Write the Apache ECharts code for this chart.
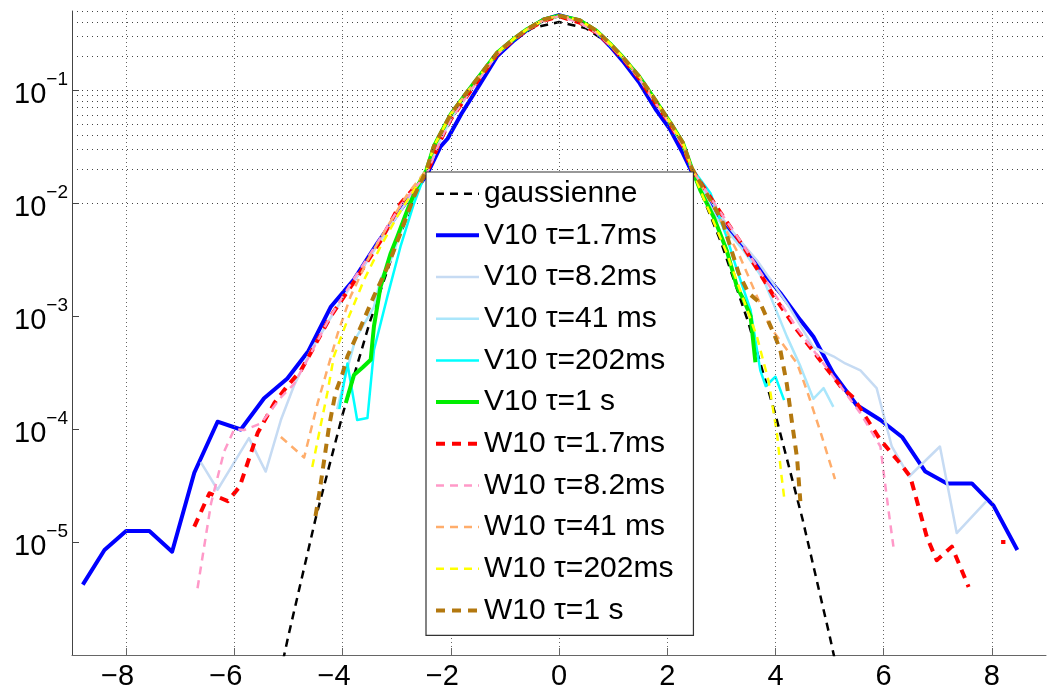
<!DOCTYPE html>
<html><head><meta charset="utf-8">
<script src="https://cdn.jsdelivr.net/npm/echarts@6/dist/echarts.min.js"></script>
<style>html,body{margin:0;padding:0;background:#fff}#c{width:1047px;height:693px}</style>
</head><body><div id="c"></div>
<script>
// ---------- data ----------
const seriesNames = ['gaussienne','V10 τ=1.7ms','V10 τ=8.2ms','V10 τ=41 ms','V10 τ=202ms','V10 τ=1 s',
  'W10 τ=1.7ms','W10 τ=8.2ms','W10 τ=41 ms','W10 τ=202ms','W10 τ=1 s'];
const xTickValues = [-8,-6,-4,-2,0,2,4,6,8];
const yLabelValues = [1e-5,1e-4,1e-3,1e-2,1e-1];

const gaussienne = [[-5.1,8.97e-7],[-5.0,1.487e-6],[-4.5,1.598e-5],[-4.0,1.338e-4],[-3.5,8.727e-4],[-3.0,4.432e-3],
  [-2.5,1.753e-2],[-2.0,5.399e-2],[-1.5,0.1295],[-1.0,0.2420],[-0.5,0.3521],[0,0.3989],[0.5,0.3521],[1.0,0.2420],
  [1.5,0.1295],[2.0,5.399e-2],[2.5,1.753e-2],[3.0,4.432e-3],[3.5,8.727e-4],[4.0,1.338e-4],[4.5,1.598e-5],[5.0,1.487e-6],[5.1,8.97e-7]];

// central part shared by most measured curves (upper edge of the bundle)
const coreA = [[-2.45,0.0195],[-2.31,0.032],[-2.00,0.061],[-1.69,0.097],[-1.45,0.137],[-1.14,0.215],[-0.83,0.285],
  [-0.59,0.345],[-0.28,0.42],[0.0,0.455],[0.38,0.415],[0.69,0.335],[0.94,0.258],[1.18,0.195],[1.49,0.13],[1.74,0.087],
  [2.05,0.052],[2.29,0.034],[2.45,0.0205]];
// narrower centre of the V10 τ=1.7ms curve (lower edge of the bundle)
const coreB = [[-2.45,0.0175],[-2.19,0.0315],[-2.06,0.037],[-1.80,0.062],[-1.51,0.103],[-1.14,0.2],[-0.83,0.275],
  [-0.59,0.34],[-0.28,0.42],[0.0,0.46],[0.38,0.41],[0.69,0.325],[0.94,0.245],[1.18,0.18],[1.49,0.115],[1.80,0.066],
  [2.05,0.045],[2.29,0.0275],[2.45,0.019]];
// middle of the bundle (τ=1.7ms and 8.2ms curves)
const coreC = [[-2.45,0.018],[-2.19,0.036],[-2.00,0.055],[-1.69,0.09],[-1.45,0.13],[-1.14,0.208],[-0.83,0.28],
  [-0.59,0.34],[-0.28,0.41],[0.0,0.45],[0.38,0.395],[0.69,0.322],[0.94,0.25],[1.18,0.19],[1.49,0.125],[1.74,0.082],
  [2.05,0.05],[2.29,0.032],[2.45,0.02]];

const v17Left = [[-8.80,4.2e-6],[-8.40,8.5e-6],[-8.00,1.25e-5],[-7.57,1.25e-5],[-7.15,8.2e-6],[-6.74,4.1e-5],[-6.31,1.16e-4],
  [-5.88,9.9e-5],[-5.45,1.87e-4],[-5.02,2.8e-4],[-4.63,4.9e-4],[-4.22,1.2e-3],[-3.79,2.1e-3],[-3.36,4.4e-3],[-2.93,8.7e-3]];
const v17Right = [[3.05,6.5e-3],[3.47,3.8e-3],[3.78,2.4e-3],[4.09,1.6e-3],[4.46,9.2e-4],[4.70,6.6e-4],[5.07,3.1e-4],[5.50,1.63e-4],
  [5.94,1.2e-4],[6.34,8.5e-5],[6.77,4.2e-5],[7.17,3.3e-5],[7.63,3.3e-5],[8.03,2.1e-5],[8.47,8.5e-6]];

const v82Left = [[-6.62,5.1e-5],[-6.31,2.9e-5],[-5.73,8.3e-5],[-5.42,4.2e-5],[-5.14,1.2e-4],[-4.90,2.4e-4],[-4.60,4.8e-4],
  [-4.20,1.0e-3],[-3.80,2.0e-3],[-3.36,4.2e-3],[-2.93,8.5e-3]];
const v82Right = [[3.0,7.5e-3],[3.29,5.0e-3],[3.66,3.1e-3],[4.21,1.3e-3],[4.70,5.3e-4],[5.07,4.4e-4],[5.29,3.8e-4],[5.57,3.3e-4],
  [5.87,2.3e-4],[6.15,7.0e-5],[6.47,3.8e-5],[7.04,7.0e-5],[7.35,1.2e-5],[7.90,2.3e-5]];

const v41Left = [[-4.10,1.5e-4],[-3.90,3.6e-4],[-3.76,6.3e-4],[-3.42,1.2e-3],[-3.30,2.1e-3],[-3.11,3.1e-3],[-2.85,7.0e-3]];
const v41Right = [[2.90,7.5e-3],[3.41,3.8e-3],[3.78,2.1e-3],[4.21,6.6e-4],[4.46,3.6e-4],[4.70,1.85e-4],[4.89,2.3e-4],[5.07,1.57e-4]];

const v202Left = [[-4.06,1.5e-4],[-3.91,3.8e-4],[-3.73,1.2e-4],[-3.54,1.25e-4],[-3.42,5.0e-4],[-3.17,1.5e-3],[-2.93,4.1e-3],[-2.68,9.9e-3]];
const v202Right = [[2.80,0.0122],[3.10,5.0e-3],[3.29,2.55e-3],[3.54,1.13e-3],[3.72,3.3e-4],[3.82,2.4e-4],[4.00,2.9e-4],[4.16,1.8e-4]];

const v1sLeft = [[-3.94,1.7e-4],[-3.79,3.0e-4],[-3.63,3.5e-4],[-3.48,4.1e-4],[-3.42,8.1e-4],[-3.30,1.8e-3],[-3.11,3.6e-3],
  [-2.99,5.0e-3],[-2.80,8.7e-3],[-2.62,0.014]];
const v1sRight = [[2.61,0.013],[2.86,7.5e-3],[3.10,3.8e-3],[3.29,1.8e-3],[3.41,1.4e-3],[3.54,1.0e-3],[3.63,3.9e-4]];

const w17Left = [[-6.74,1.37e-5],[-6.46,2.7e-5],[-6.12,2.3e-5],[-5.90,3.1e-5],[-5.57,9.2e-5],[-5.26,1.7e-4],[-5.02,2.4e-4],
  [-4.77,3.3e-4],[-4.53,5.3e-4],[-4.22,9.9e-4],[-3.73,2.2e-3],[-3.30,4.6e-3],[-2.93,9.9e-3]];
const w17Right = [[2.93,9.0e-3],[3.41,4.1e-3],[3.97,1.5e-3],[4.40,7.5e-4],[4.77,4.4e-4],[5.20,2.4e-4],[5.44,1.9e-4],[5.57,1.5e-4],
  [5.94,8.0e-5],[6.30,5.0e-5],[6.49,3.8e-5],[6.80,1.1e-5],[6.98,6.9e-6],[7.26,9.1e-6],[7.57,4.0e-6],[7.9,'-'],[8.17,1.0e-5],[8.25,1.0e-5]];

const w82Left = [[-6.68,3.9e-6],[-6.43,2.2e-5],[-6.19,6.3e-5],[-6.0,1.0e-4],[-5.82,9.8e-5],[-5.51,1.12e-4],[-5.14,1.9e-4],
  [-4.90,2.5e-4],[-4.65,4.1e-4],[-4.22,1.0e-3],[-3.80,2.1e-3],[-3.36,4.4e-3],[-2.93,9.5e-3]];
const w82Right = [[2.93,9.0e-3],[3.41,4.2e-3],[3.97,1.6e-3],[4.40,7.8e-4],[4.77,4.5e-4],[5.20,2.4e-4],[5.57,1.38e-4],
  [5.94,7.0e-5],[6.00,4.1e-5],[6.09,1.9e-5],[6.18,9.1e-6]];

const w41Left = [[-5.14,8.5e-5],[-4.71,5.6e-5],[-4.46,1.7e-4],[-4.09,7.0e-4],[-3.85,1.5e-3],[-3.54,3.1e-3],[-3.17,6.2e-3],[-2.80,0.012]];
const w41Right = [[2.90,8.5e-3],[3.35,3.3e-3],[3.90,8.0e-4],[4.40,3.8e-4],[4.58,2.2e-4],[4.83,9.5e-5],[5.10,3.6e-5]];

const w202Left = [[-4.56,4.6e-5],[-4.40,1.1e-4],[-4.28,2.1e-4],[-4.16,4.4e-4],[-3.91,9.2e-4],[-3.60,2.1e-3],[-3.30,4.1e-3],[-2.99,7.6e-3]];
const w202Right = [[2.61,0.013],[3.10,3.6e-3],[3.66,6.5e-4],[3.87,2.7e-4],[4.03,9.0e-5],[4.10,4.3e-5],[4.16,2.5e-5]];

const w1sLeft = [[-4.50,1.7e-5],[-4.43,2.7e-5],[-4.34,5.3e-5],[-4.25,1.05e-4],[-4.13,2.1e-4],[-4.00,3.1e-4],[-3.91,4.4e-4],
  [-3.66,8.1e-4],[-3.42,1.5e-3],[-3.17,2.7e-3],[-2.93,5.4e-3],[-2.68,0.0114]];
const w1sRight = [[3.01,7.1e-3],[3.32,2.4e-3],[3.50,1.6e-3],[3.72,1.3e-3],[3.97,7.0e-4],[4.09,5.0e-4],[4.21,2.5e-4],
  [4.30,1.2e-4],[4.40,5.5e-5],[4.46,2.3e-5]];

// ---------- chart ----------
const full = (l, c, r) => l.concat(c, r);
const seriesData = [gaussienne, full(v17Left,coreB,v17Right), full(v82Left,coreC,v82Right), full(v41Left,coreA,v41Right),
  full(v202Left,coreA,v202Right), full(v1sLeft,coreA,v1sRight), full(w17Left,coreC,w17Right), full(w82Left,coreC,w82Right),
  full(w41Left,coreA,w41Right), full(w202Left,coreA,w202Right), full(w1sLeft,coreA,w1sRight)];
const styles = [
  {c:'#000000', w:2.5, t:[8,6]},
  {c:'#0000ff', w:4, t:'solid'},
  {c:'#c6dbf3', w:2.5, t:'solid'},
  {c:'#aae6fb', w:2.5, t:'solid'},
  {c:'#00ffff', w:2.5, t:'solid'},
  {c:'#00ee00', w:4, t:'solid'},
  {c:'#ff0000', w:4, t:[9,7]},
  {c:'#ff99c8', w:2.5, t:[8,6]},
  {c:'#ffad6b', w:2.5, t:[8,6]},
  {c:'#ffff00', w:2.5, t:[8,6]},
  {c:'#b3780f', w:4, t:[9,7]}
];

const hGrid = [];
for (let e = -6; e <= -1; e++) for (let m = 1; m <= 9; m++) { const v = m * Math.pow(10, e); if (v <= 0.5001 && v > 1.01e-6) hGrid.push(v); }

const FONT = 'Liberation Sans, Arial, Helvetica, sans-serif';
const chart = echarts.init(document.getElementById('c'), null, {renderer: 'canvas'});
const series = seriesNames.map((n, i) => ({
  name: n, type: 'line', data: seriesData[i], symbol: 'none', showSymbol: false, smooth: false,
  connectNulls: false, clip: true, animation: false, z: 3,
  lineStyle: {color: styles[i].c, width: styles[i].w, type: styles[i].t, cap: 'butt', join: 'round'},
  itemStyle: {color: styles[i].c}
}));
series.unshift({
  name: 'grid', type: 'line', data: [], silent: true, z: 1, animation: false,
  markLine: {
    silent: true, symbol: ['none','none'], label: {show: false}, animation: false,
    data: hGrid.map(v => ({yAxis: v, lineStyle: {color: '#444', width: 1, type: [1,4]}}))
      .concat(xTickValues.map(v => ({xAxis: v, lineStyle: {color: '#666', width: 1, type: [1,3]}})))
  }
});

chart.setOption({
  animation: false,
  backgroundColor: '#fff',
  grid: {left: 72, right: 1, top: 11, bottom: 38, containLabel: false},
  xAxis: {
    type: 'value', min: -9, max: 9,
    axisLine: {show: true, onZero: false, lineStyle: {color: '#666', width: 1}},
    axisTick: {show: true, inside: true, length: 7, customValues: xTickValues, lineStyle: {color: '#666'}},
    splitLine: {show: false},
    axisLabel: {
      customValues: xTickValues, margin: 7, color: '#000', fontFamily: FONT, fontSize: 29,
      formatter: v => v < 0 ? '{d|−' + Math.abs(v) + '}{p| }' : '{d|' + v + '}',
      rich: {d: {fontSize: 29, fontFamily: FONT, color: '#000'}, p: {width: 17, fontSize: 29}}
    }
  },
  yAxis: {
    type: 'log', logBase: 10, min: 1e-6, max: 0.5,
    axisLine: {show: true, onZero: false, lineStyle: {color: '#444', width: 1}},
    axisTick: {show: true, inside: true, length: 7, lineStyle: {color: '#444'}},
    splitLine: {show: false},
    axisLabel: {
      margin: 4, color: '#000', showMinLabel: false, showMaxLabel: false,
      formatter: v => {
        const e = Math.round(Math.log10(v));
        if (Math.abs(Math.log10(v) - e) > 0.01 || e < -5 || e > -1) return '';
        return '{b|10}{s|−' + Math.abs(e) + '}';
      },
      rich: {
        b: {fontSize: 29, fontFamily: FONT, color: '#000', lineHeight: 40, verticalAlign: 'bottom'},
        s: {fontSize: 19, fontFamily: FONT, color: '#000', lineHeight: 22, verticalAlign: 'top'}
      }
    }
  },
  legend: {
    show: true, orient: 'vertical', left: 426, top: 172,
    data: seriesNames,
    itemWidth: 43, itemHeight: 30, itemGap: 11.67,
    padding: [6.7, 20, 10, 8],
    itemStyle: {opacity: 0},
    lineStyle: {width: 'inherit', type: 'inherit', color: 'inherit'},
    backgroundColor: '#fff', borderColor: '#333', borderWidth: 1.2, borderRadius: 0,
    textStyle: {fontSize: 30, fontFamily: FONT, color: '#000', lineHeight: 30, padding: [0,0,0,0]},
    selectedMode: false, z: 10
  },
  series: series
});
</script></body></html>
